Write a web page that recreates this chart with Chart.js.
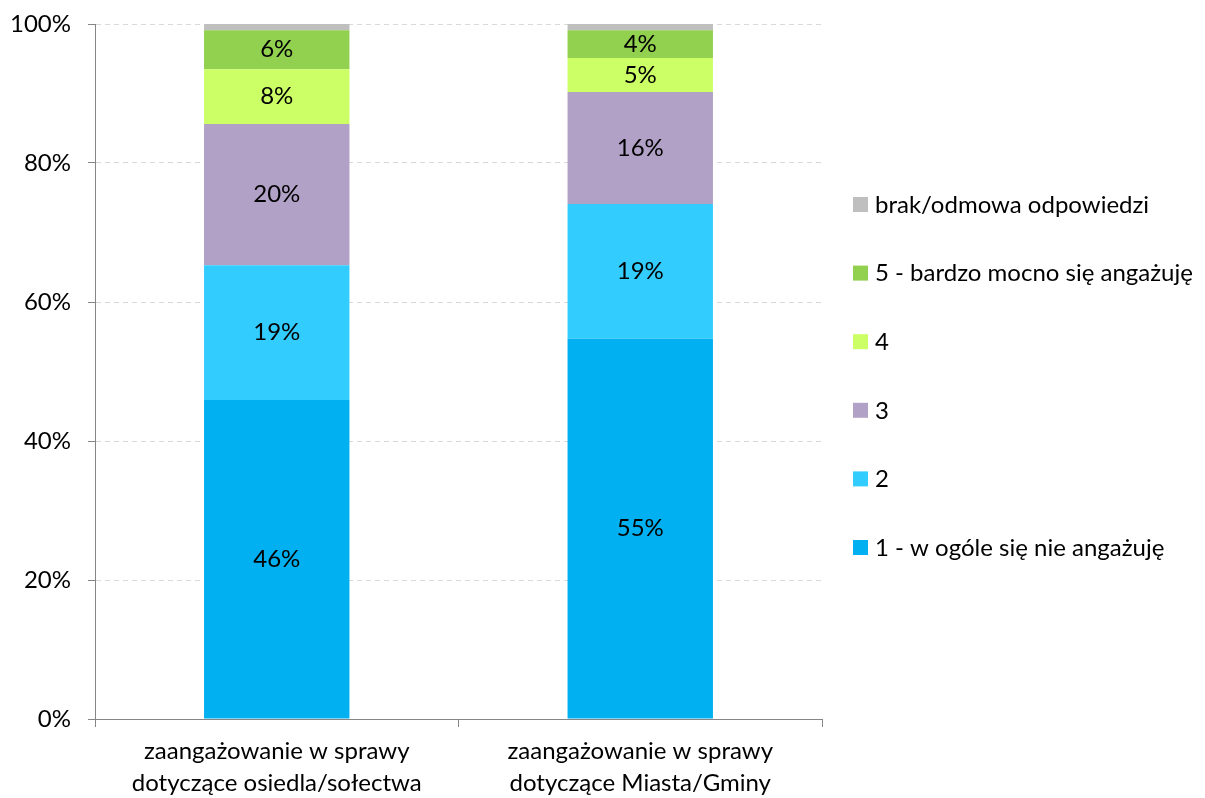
<!DOCTYPE html>
<html>
<head>
<meta charset="utf-8">
<script src="https://cdn.jsdelivr.net/npm/chart.js@4"></script>
<style>
  html, body { margin: 0; padding: 0; background: #fff; }
  #wrap { width: 1205px; height: 798px; }
</style>
</head>
<body>
<div id="wrap"><canvas id="chart"></canvas></div>
<script>
//=[ Data ]=====================================================================

const categories = [
  ["zaangażowanie w sprawy", "dotyczące osiedla/sołectwa"],
  ["zaangażowanie w sprawy", "dotyczące Miasta/Gminy"],
];

const seriesNames = [
  "1 - w ogóle się nie angażuję",
  "2",
  "3",
  "4",
  "5 - bardzo mocno się angażuję",
  "brak/odmowa odpowiedzi",
];

const level1 = [45.9, 54.7];
const level2 = [19.4, 19.4];
const level3 = [20.3, 16.1];
const level4 = [7.9, 4.9];
const level5 = [5.6, 4.0];
const noAnswer = [0.9, 0.9];

const yTicks = [0, 20, 40, 60, 80, 100];

const colors = ["#00B0F0", "#33CCFF", "#B2A1C7", "#CCFF66", "#92D050", "#BFBFBF"];

//=[ Chart ]====================================================================

const FONT = "Lato, 'Open Sans', sans-serif";
const FONT_SIZE = 24;
const seriesValues = [level1, level2, level3, level4, level5, noAnswer];

// labels inside segments (skip the thin "brak" slice)
const segmentLabels = {
  id: "segmentLabels",
  afterDatasetsDraw(chart) {
    const ctx = chart.ctx;
    ctx.save();
    ctx.font = FONT_SIZE + "px " + FONT;
    ctx.fillStyle = "#000";
    ctx.textAlign = "center";
    ctx.textBaseline = "middle";
    chart.data.datasets.forEach((ds, i) => {
      if (i === 5) return;
      chart.getDatasetMeta(i).data.forEach((bar, j) => {
        const y = (bar.y + bar.base) / 2;
        ctx.fillText(Math.round(ds.data[j]) + "%", bar.x, y);
      });
    });
    ctx.restore();
  },
};

// legend on the right, top item = last series
const sideLegend = {
  id: "sideLegend",
  afterDraw(chart) {
    const ctx = chart.ctx;
    ctx.save();
    ctx.font = FONT_SIZE + "px " + FONT;
    ctx.textBaseline = "middle";
    const n = chart.data.datasets.length;
    for (let k = 0; k < n; k++) {
      const ds = chart.data.datasets[n - 1 - k];
      const y = 204 + k * 68.6;
      ctx.fillStyle = ds.backgroundColor;
      ctx.fillRect(853, y - 7, 15, 15);
      ctx.fillStyle = "#000";
      ctx.fillText(ds.label, 875, y + 1);
    }
    ctx.restore();
  },
};

new Chart(document.getElementById("chart"), {
  type: "bar",
  data: {
    labels: categories,
    datasets: seriesNames.map((name, i) => ({
      label: name,
      data: seriesValues[i],
      backgroundColor: colors[i],
      barPercentage: 0.4,
      categoryPercentage: 1,
    })),
  },
  options: {
    responsive: true,
    maintainAspectRatio: false,
    animation: false,
    layout: {
      padding: { top: 24, right: 383, bottom: 0, left: 0 },
    },
    scales: {
      x: {
        stacked: true,
        offset: true,
        afterFit: (scale) => { scale.height = 79; },
        border: { color: "#868686", width: 1 },
        grid: {
          offset: true,
          drawOnChartArea: false,
          drawTicks: true,
          tickLength: 8,
          tickColor: "#868686",
        },
        ticks: {
          color: "#000",
          padding: 9,
          font: { family: FONT, size: FONT_SIZE, lineHeight: 1.3 },
          maxRotation: 0,
        },
      },
      y: {
        stacked: true,
        min: 0,
        max: 100,
        afterFit: (scale) => {
          scale.width = 95;
          scale.paddingTop = 0;
          scale.paddingBottom = 0;
        },
        afterBuildTicks: (scale) => {
          scale.ticks = yTicks.map((v) => ({ value: v }));
        },
        border: { color: "#868686", width: 1, dash: [5, 4] },
        grid: {
          color: "#d9d9d9",
          tickColor: "#868686",
          tickBorderDash: [],
          tickLength: 7,
        },
        ticks: {
          color: "#000",
          padding: 17,
          font: { family: FONT, size: FONT_SIZE },
          callback: (v) => v + "%",
        },
      },
    },
    plugins: {
      legend: { display: false },
      tooltip: { enabled: false },
    },
  },
  plugins: [segmentLabels, sideLegend],
});
</script>
</body>
</html>
